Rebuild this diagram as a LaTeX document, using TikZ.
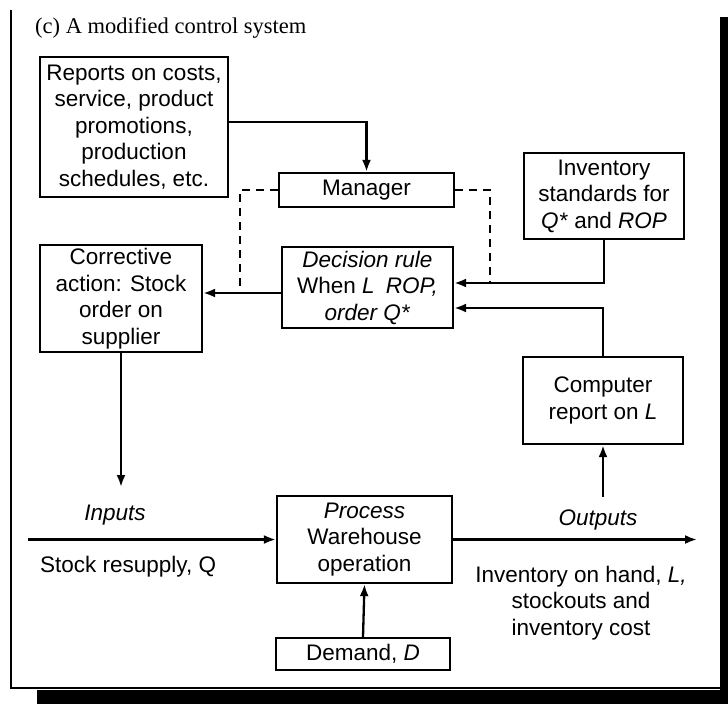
\documentclass[tikz,border=0pt]{standalone}
\usepackage{fontspec}
\setmainfont{Liberation Sans}
\newfontfamily\titlefont{Liberation Serif}
\usetikzlibrary{arrows.meta}
\begin{document}
\begin{tikzpicture}[x=1pt,y=-1pt,
  box/.style={draw,line width=2.3pt,align=center,inner sep=0pt,font=\fontsize{22.5}{26.5}\selectfont},
  lbl/.style={align=center,inner sep=0pt,font=\fontsize{22.5}{26.5}\selectfont},
  conn/.style={line width=2.3pt},
  arr/.style={line width=2.3pt,-{Latex[length=12pt,width=9pt]}},
  dashln/.style={line width=2.3pt,dash pattern=on 8pt off 6pt}]
\useasboundingbox (0,0) rectangle (728,704);
% frame
\draw[line width=2.5pt] (11,10) -- (11,688) -- (720,688);
\fill (720,17) rectangle (728,704);
\fill (37,690) rectangle (728,704);
% title
\node[anchor=base west,inner sep=0pt,font=\titlefont\fontsize{22.5}{27}\selectfont] (title) at (35,33) {(c) A modified control system};
% boxes
\node[box,minimum width=188pt,minimum height=140pt] (rep) at (134,127) {Reports on costs,\\service, product\\promotions,\\production\\schedules, etc.};
\node[box,minimum width=175pt,minimum height=34pt] (man) at (366.5,190) {Manager};
\node[box,minimum width=160pt,minimum height=86pt] (inv) at (604,196) {Inventory\\standards for\\\textit{Q*} and \textit{ROP}};
\node[box,minimum width=162pt,minimum height=107pt] (cor) at (121,298.5) {Corrective\\action: Stock\\order on\\supplier};
\node[box,minimum width=171pt,minimum height=81pt] (dec) at (367.5,287.5) {\textit{Decision rule}\\When \textit{L}\enspace\textit{ROP,}\\\textit{order Q*}};
\node[box,minimum width=160pt,minimum height=87pt] (comp) at (603,400.5) {Computer\\report on \textit{L}};
\node[box,minimum width=175pt,minimum height=87pt] (proc) at (364.5,539.5) {\textit{Process}\\Warehouse\\operation};
\node[box,minimum width=174pt,minimum height=32pt] (dem) at (363,654) {Demand, \textit{D}};
% labels
\node[lbl] (inl) at (115,515) {\textit{Inputs}};
\node[lbl,anchor=west] (stock) at (40,567) {Stock resupply, Q};
\node[lbl] (outl) at (598,520) {\textit{Outputs}};
\node[lbl] (outt) at (581,603) {Inventory on hand, \textit{L,}\\stockouts and\\inventory cost};
% coordinates
\coordinate (mdl) at (240,190);
\coordinate (ay) at (0,293);
\coordinate (mdr) at (490,190);
\coordinate (cend) at (121,487);
\coordinate (instart) at (28,539.5);
\coordinate (outend) at (697,539.5);
\coordinate (cstart) at (603,497);
% connectors
\draw[arr] ([yshift=5pt]rep.east) -| (man.north);
\draw[arr] (dec.west |- ay) -- (cor.east |- ay);
\draw[dashln] (man.west) -- (mdl) -- (mdl |- ay);
\draw[arr] (inv.south) |- ([yshift=4.5pt]dec.east);
\draw[dashln] (man.east) -- (mdr) -- (mdr |- 0,283);
\draw[arr] (comp.north) |- ([yshift=-20.5pt]dec.east);
\draw[arr] (cor.south) -- (cend);
\draw[arr] (instart) -- (proc.west);
\draw[arr] (proc.east) -- (outend);
\draw[arr] (cstart) -- (comp.south);
\draw[arr] (dem.north) -- (proc.south);
\end{tikzpicture}
\end{document}
